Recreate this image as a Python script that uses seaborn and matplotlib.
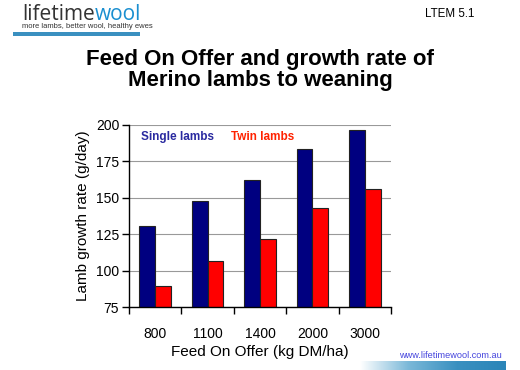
import numpy as np
import pandas as pd
import matplotlib
matplotlib.use("Agg")
import matplotlib.pyplot as plt
import seaborn as sns
from matplotlib.patches import Rectangle
from matplotlib.colors import LinearSegmentedColormap

categories = ["800", "1100", "1400", "2000", "3000"]
single_lambs = [131, 148, 162, 183, 196]
twin_lambs = [90, 107, 122, 143, 156]
series_names = ["Single lambs", "Twin lambs"]
y_ticks = [75, 100, 125, 150, 175, 200]

sns.set_theme(style="white")
plt.rcParams["font.family"] = ["Liberation Sans", "DejaVu Sans"]
plt.rcParams["text.color"] = "black"
plt.rcParams["axes.labelcolor"] = "black"
plt.rcParams["xtick.color"] = "black"
plt.rcParams["ytick.color"] = "black"

df = pd.DataFrame({
    "FOO": categories * 2,
    "rate": single_lambs + twin_lambs,
    "type": [series_names[0]] * len(categories) + [series_names[1]] * len(categories),
})

fig = plt.figure(figsize=(5.2, 3.7), dpi=100)
ax = fig.add_axes([0.248, 0.169, 0.504, 0.4945])

sns.barplot(data=df, x="FOO", y="rate", hue="type", order=categories,
            hue_order=series_names, palette=["#000080", "#ff0000"],
            width=0.6, gap=0, edgecolor="#222222", linewidth=0.8,
            saturation=1, legend=False, ax=ax, errorbar=None)

ax.set_ylim(75, 200)
ax.set_yticks(y_ticks)
ax.set_xlim(-0.5, 4.5)
ax.yaxis.grid(True, color="#999999", linewidth=0.8)
ax.set_axisbelow(True)
for s in ["top", "right"]:
    ax.spines[s].set_visible(False)
ax.spines["left"].set_color("black")
ax.spines["bottom"].set_color("black")
ax.spines["left"].set_linewidth(1.0)
ax.spines["bottom"].set_linewidth(1.0)

# x ticks at category boundaries, labels at centres
ax.set_xticks(np.arange(-0.5, len(categories), 1.0))
ax.set_xticklabels([])
ax.set_xticks(np.arange(len(categories)), minor=True)
ax.set_xticklabels(categories, minor=True, fontsize=10)
ax.tick_params(axis="x", which="major", direction="out", length=5, width=1, color="black", bottom=True)
ax.tick_params(axis="x", which="minor", length=0, pad=14)
ax.tick_params(axis="y", direction="out", length=5, width=1, color="black", left=True, labelsize=10, pad=2)

ax.set_xlabel("Feed On Offer (kg DM/ha)", fontsize=11, labelpad=3)
ax.set_ylabel("Lamb growth rate (g/day)", fontsize=11, labelpad=4)

ax.text(0.045, 0.93, series_names[0], transform=ax.transAxes, color="#2a2aa0",
        fontsize=8.5, fontweight="bold", va="center", ha="left")
ax.text(0.39, 0.93, series_names[1], transform=ax.transAxes, color="#ff2200",
        fontsize=8.5, fontweight="bold", va="center", ha="left")

fig.text(0.5, 1 - 70 / 370, "Feed On Offer and growth rate of\nMerino lambs to weaning",
         ha="center", va="center", fontsize=16, fontweight="bold", linespacing=1.0)

fig.text(450 / 520, 1 - 14 / 370, "LTEM 5.1", ha="center", va="center", fontsize=8.3)

# logo
fig.canvas.draw()
r = fig.canvas.get_renderer()
t1 = fig.text(22 / 520, 1 - 14 / 370, "lifetime", ha="left", va="center",
              fontsize=15, color="#333333", family=["Open Sans", "DejaVu Sans"])
bb = t1.get_window_extent(renderer=r)
fig.text(bb.x1 / 520, 1 - 14 / 370, "wool", ha="left", va="center",
         fontsize=15, color="#1a8fd0", family=["Open Sans", "DejaVu Sans"])
fig.text(22 / 520, 1 - 27 / 370, "more lambs, better wool, healthy ewes", ha="left",
         va="center", fontsize=5.5, color="#333333")
fig.add_artist(Rectangle((13 / 520, 1 - 36 / 370), 127 / 520, 3.5 / 370,
                         transform=fig.transFigure, color="#3a90c0", lw=0))

# footer
fig.text(399 / 520, 1 - 356 / 370, "www.lifetimewool.com.au", ha="left", va="center",
         fontsize=6.6, color="#4444dd")
gax = fig.add_axes([360 / 520, 0, 146 / 520, 9 / 370])
grad = np.linspace(0, 1, 256).reshape(1, -1)
cmap = LinearSegmentedColormap.from_list("g", ["#ffffff", "#7ab8d8", "#3a90c0", "#2a85b8"])
gax.imshow(grad, aspect="auto", cmap=cmap)
gax.axis("off")

fig.savefig("out.png", dpi=100)
